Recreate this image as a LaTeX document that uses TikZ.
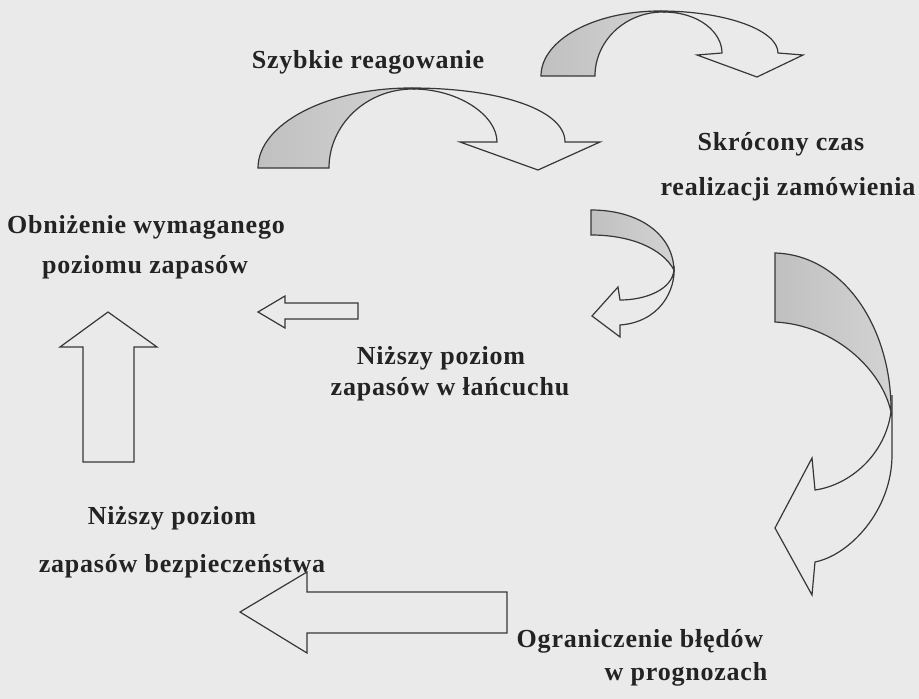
\documentclass[tikz,border=0pt]{standalone}
\usepackage{fontspec}
\setmainfont[LetterSpace=3]{Liberation Serif}
\usepackage{tikz}
\definecolor{tlo}{RGB}{234,234,234}
\definecolor{linia}{RGB}{55,55,55}
\definecolor{cien}{RGB}{192,192,192}
\definecolor{napis}{RGB}{35,35,35}

\begin{document}
\begin{tikzpicture}[x=1pt,y=-1pt]
      \tikzstyle{every node} = [inner sep=0pt, anchor=base, text=napis, font=\fontsize{26}{30}\selectfont\bfseries]
      \tikzstyle{strzalka} = [draw=linia, line width=1.2pt, line join=miter]
      \tikzstyle{cieniowana} = [strzalka, left color=cien, right color=cien!55!tlo]
      \fill[tlo] (0,0) rectangle (919,699);
      \useasboundingbox (0,0) rectangle (919,699);

      % luki u gory
      \path[cieniowana] (258,168) -- (329,168) .. controls (329,125) and (366,89) .. (413,89)
        -- (411,88) .. controls (327,88) and (258,124) .. (258,168) -- cycle;
      \path[strzalka] (413,89) .. controls (458,89) and (497,115) .. (497,142) -- (460,142)
        -- (538,170) -- (600,142) -- (565,142) .. controls (565,110) and (500,88) .. (411,88);
      \path[cieniowana] (541,76) -- (595,76) .. controls (595,41) and (625,12) .. (663,12)
        -- (660,11) .. controls (594,11) and (541,40) .. (541,76) -- cycle;
      \path[strzalka] (663,12) .. controls (700,12) and (722,33) .. (722,53) -- (697,55)
        -- (757,77) -- (803,55) -- (778,53) .. controls (778,30) and (725,11) .. (660,11);

      % luki po prawej
      \path[cieniowana] (591,210) -- (591,235) .. controls (630,235) and (662,248) .. (674,270)
        .. controls (673,235) and (640,210) .. (591,210) -- cycle;
      \path[strzalka] (674,270) .. controls (672,290) and (645,300) .. (620,300) -- (618,287)
        -- (592,316) -- (620,337) -- (620,325) .. controls (660,322) and (676,290) .. (674,266);
      \path[cieniowana] (775,253) -- (775,322) .. controls (835,325) and (882,370) .. (891,412)
        .. controls (892,330) and (845,255) .. (775,253) -- cycle;
      \path[strzalka] (891,412) .. controls (885,455) and (850,485) .. (815,490) -- (812,458)
        -- (775,528) -- (812,595) -- (815,562) .. controls (850,555) and (892,510) .. (892,455)
        -- (892,395);

      % proste strzalki
      \path[strzalka] (358,303) -- (285,303) -- (285,296) -- (258,312) -- (285,328) -- (285,319)
        -- (358,319) -- cycle;
      \path[strzalka] (83,462) -- (83,347) -- (60,347) -- (108,312) -- (157,347) -- (134,347)
        -- (134,462) -- cycle;
      \path[strzalka] (507,592) -- (307,592) -- (307,572) -- (240,612) -- (307,653) -- (307,633)
        -- (507,633) -- cycle;

      \node (t1) at (368,68) {Szybkie reagowanie};
      \node (t2a) at (781,150) {Skrócony czas};
      \node (t2b) at (788,195) {realizacji zamówienia};
      \node (t3a) at (146,233) {Obniżenie wymaganego};
      \node (t3b) at (145,273) {poziomu zapasów};
      \node (t4a) at (441,364) {Niższy poziom};
      \node (t4b) at (450,395) {zapasów w łańcuchu};
      \node (t5a) at (172,524) {Niższy poziom};
      \node (t5b) at (182,572) {zapasów bezpieczeństwa};
      \node (t6a) at (640,647) {Ograniczenie błędów};
      \node (t6b) at (686,680) {w prognozach};
    \end{tikzpicture}
\end{document}
